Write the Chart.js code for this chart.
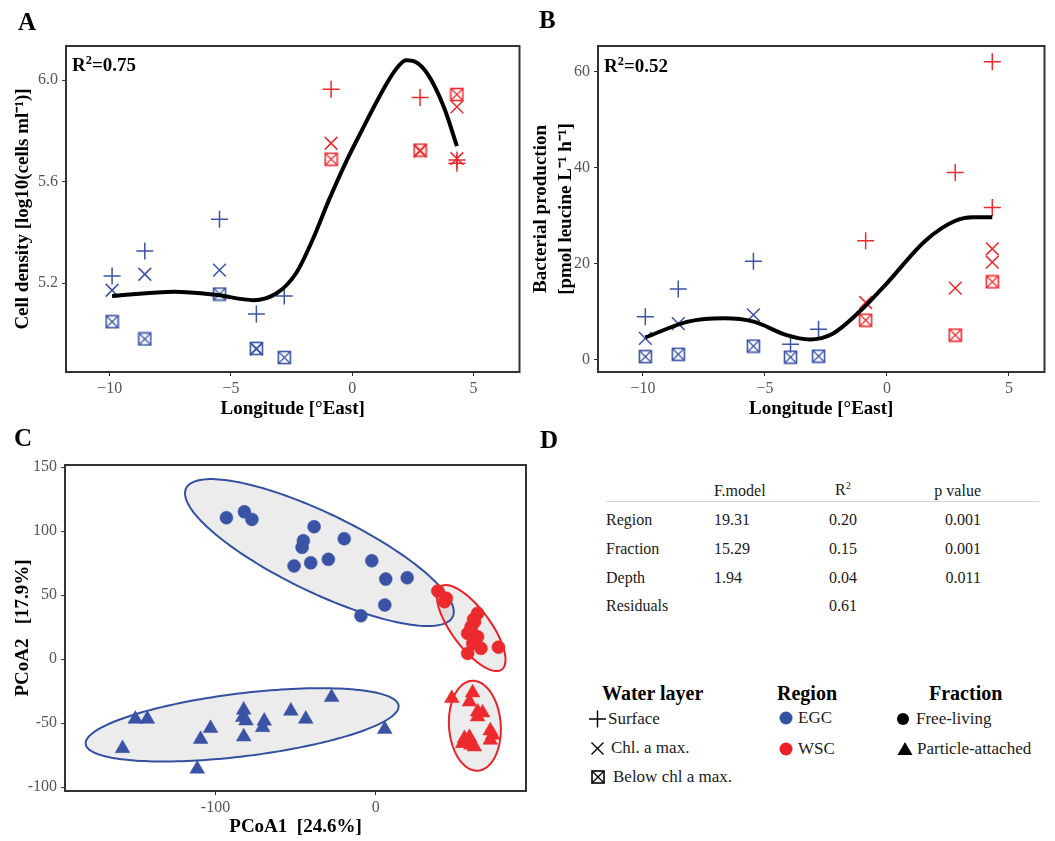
<!DOCTYPE html>
<html>
<head>
<meta charset="utf-8">
<title>Cell density, bacterial production and PCoA</title>
<script src="https://cdn.jsdelivr.net/npm/chart.js@4.4.1/dist/chart.umd.min.js"></script>
<style>
  body { margin: 0; background: #fff; }
  #fig { position: relative; width: 1055px; height: 841px; overflow: hidden;
         font-family: 'Liberation Serif', 'Times New Roman', serif; color: #000; }
  #fig canvas { position: absolute; }
  .t { position: absolute; white-space: nowrap; line-height: 20px; height: 20px; }
  .panel { font-size: 25px; font-weight: bold; }
  .r2 { font-size: 19px; font-weight: bold; }
  .tab { font-size: 16px; color: #1a1a1a; }
  .head { font-size: 20px; font-weight: bold; }
  .item { font-size: 17px; color: #1a1a1a; }
  .sym { position: absolute; }
  sup { font-size: 0.65em; line-height: 0; vertical-align: 0.55em; }
</style>
</head>
<body>
<div id="fig">
  <canvas id="chartA" width="530" height="420" style="left:0;top:0"></canvas>
  <canvas id="chartB" width="527" height="420" style="left:528px;top:0"></canvas>
  <canvas id="chartC" width="535" height="411" style="left:0;top:430px"></canvas>

  <div class="t panel" style="left:18px;top:12px">A</div>
  <div class="t panel" style="left:539px;top:10px">B</div>
  <div class="t panel" style="left:14px;top:428px">C</div>
  <div class="t panel" style="left:540px;top:430px">D</div>

  <div class="t r2" style="left:72px;top:55px">R<sup>2</sup>=0.75</div>
  <div class="t r2" style="left:604px;top:56px">R<sup>2</sup>=0.52</div>

  <!-- PERMANOVA table -->
  <div id="permTable"></div>
  <div style="position:absolute;left:606px;top:501px;width:433px;height:1px;background:#d6d6d6"></div>

  <!-- legend -->
  <div class="t head" style="left:602px;top:683px">Water layer</div>
  <div class="t head" style="left:777px;top:683px">Region</div>
  <div class="t head" style="left:929px;top:683px">Fraction</div>

  <svg class="sym" style="left:589px;top:710px" width="18" height="18">
    <path d="M0 9H17M8.5 0.5V17.5" stroke="#000" stroke-width="1.4" fill="none"/>
  </svg>
  <div class="t item" style="left:608px;top:709px">Surface</div>
  <svg class="sym" style="left:590px;top:741px" width="15" height="15">
    <path d="M1.5 1.5L13.5 13.5M13.5 1.5L1.5 13.5" stroke="#000" stroke-width="1.4" fill="none"/>
  </svg>
  <div class="t item" style="left:611px;top:738px">Chl. a max.</div>
  <svg class="sym" style="left:591px;top:770px" width="14" height="14">
    <rect x="1" y="1" width="12" height="12" stroke="#000" stroke-width="1.6" fill="none"/>
    <path d="M1 1L13 13M13 1L1 13" stroke="#000" stroke-width="1.4" fill="none"/>
  </svg>
  <div class="t item" style="left:613px;top:767px">Below chl a max.</div>

  <svg class="sym" style="left:778px;top:710px" width="16" height="16"><circle cx="8" cy="8" r="6.5" fill="#3451a1"/></svg>
  <div class="t item" style="left:798px;top:708px">EGC</div>
  <svg class="sym" style="left:778px;top:741px" width="16" height="16"><circle cx="8" cy="8" r="6.5" fill="#ec2027"/></svg>
  <div class="t item" style="left:798px;top:739px">WSC</div>

  <svg class="sym" style="left:896px;top:712px" width="14" height="14"><circle cx="7" cy="7" r="6" fill="#000"/></svg>
  <div class="t item" style="left:916px;top:709px">Free-living</div>
  <svg class="sym" style="left:897px;top:741px" width="16" height="15"><path d="M8 1L15.5 14H0.5Z" fill="#000"/></svg>
  <div class="t item" style="left:917px;top:739px">Particle-attached</div>
</div>

<script>
// ---------- panel A / B : stations along the transect ----------
const lonEgc = [-9.9, -8.55, -5.47, -3.95, -2.8];
const lonWsc = [-0.87, 2.8, 4.32, 4.32];

// cell density, log10(cells ml-1)
const egcSurfA  = [5.228, 5.327, 5.452, 5.078, 5.149];
const egcChlA   = [5.172, 5.235, 5.251, 4.94, null];
const egcBelowA = [5.048, 4.98, 5.157, 4.943, 4.907];
const wscSurfA  = [5.964, 5.931, 5.685, 5.672];
const wscChlA   = [5.751, 5.72, 5.894, 5.69];
const wscBelowA = [5.688, 5.724, 5.943, null];

// bacterial production, pmol leucine L-1 h-1
const egcSurfB  = [8.9, 14.7, 20.5, 3.2, 6.3];
const egcChlB   = [4.4, 7.5, 9.3, null, null];
const egcBelowB = [0.6, 1.1, 2.8, 0.5, 0.7];
const wscSurfB  = [24.8, 39.0, 62.1, 31.7];
const wscChlB   = [11.9, 14.9, 23.1, 20.3];
const wscBelowB = [8.2, 5.1, 16.2, null];

// smoothed trend lines
const curveLonA = [-9.9, -7.33, -5.57, -4.08, -3.13, -2.32, -1.64, -0.96, -0.28, 0.39, 1.21, 1.75, 2.22, 2.6, 3.1, 3.78, 4.32];
const curveA    = [5.149, 5.166, 5.153, 5.133, 5.159, 5.238, 5.369, 5.527, 5.672, 5.80, 5.95, 6.035, 6.078, 6.072, 6.025, 5.894, 5.74];
const curveLonB = [-9.9, -8.15, -6.67, -5.46, -4.11, -3.17, -2.22, -1.14, -0.02, 1.58, 2.83, 3.5, 4.32];
const curveB    = [4.6, 7.9, 8.6, 7.9, 5.1, 4.2, 5.4, 9.9, 15.8, 24.8, 29.0, 29.7, 29.7];

const lonTicks = [-10, -5, 0, 5];
const densityTicks = [5.2, 5.6, 6.0];
const productionTicks = [0, 20, 40, 60];

// ---------- panel C : PCoA scores ----------
const egcFreeX = [-93.2, -82, -77.3, -51, -46, -45.2, -38.5, -40.6, -29.6, -19.7, -2.5, 6.2, 19.6, 5.6, -9.3];
const egcFreeY = [110.4, 115, 109.1, 72.7, 87.3, 92.4, 103.4, 75.2, 77.9, 94, 76.8, 62.5, 63.5, 42.2, 33.8];
const wscFreeX = [38.7, 42.9, 44, 63.5, 61.6, 59.4, 57.3, 63.5, 60.5, 65.6, 76.5, 57.3, 59.5, 61];
const wscFreeY = [53.1, 44.8, 47.5, 35.7, 29.1, 25.2, 20, 17.4, 12.2, 8.4, 9.3, 4.4, 22.5, 31];
const egcAttX = [-158, -150, -142.5, -109.3, -103.1, -111.4, -82.4, -83, -81, -82.4, -69.6, -70.6, -53, -43.7, -27.6, 5.6];
const egcAttY = [-69.8, -46.9, -46.9, -62.7, -54.1, -85.9, -39.8, -45.5, -48.2, -60.7, -48.4, -53.4, -40.6, -46.9, -29.9, -54.9];
const wscAttX = [47.4, 60.4, 58.4, 63.5, 66.6, 63.5, 71.4, 72.9, 71.4, 55.3, 58.4, 59.4, 61.5, 54.2];
const wscAttY = [-30.7, -26.3, -33.4, -41.2, -42, -45, -56, -59.4, -63.3, -62, -61.2, -67.2, -68.5, -65.9];

// confidence ellipses: centre and two conjugate semi-axes (data units)
// order: EGC free-living, WSC free-living, EGC particle-attached, WSC particle-attached
const ellipseCentre = [[-35.2, 83.2], [59.5, 24.2], [-83.4, -51.4], [61.8, -52.1]];
const ellipseAxis1  = [[83.15, -50.2], [19.12, -32.35], [97.6, 15.0], [1.93, -35.1]];
const ellipseAxis2  = [[-10.62, -27.8], [-9.67, -9.04], [2.38, -24.4], [16.1, 1.4]];

const pcoaXTicks = [-100, 0];
const pcoaYTicks = [-100, -50, 0, 50, 100, 150];

// ---------- panel D : PERMANOVA ----------
const permHeader = ['', 'F.model', 'R<sup>2</sup>', 'p value'];
const permTerms  = ['Region', 'Fraction', 'Depth', 'Residuals'];
const permF      = ['19.31', '15.29', '1.94', ''];
const permR2     = ['0.20', '0.15', '0.04', '0.61'];
const permP      = ['0.001', '0.001', '0.011', ''];

// ----------------------------------------------------------------
const BLUE = '#3a53a4';
const RED = '#ec2a2d';
const ELL_COL = ['#3451a1', '#ec2027', '#3451a1', '#ec2027'];

Chart.defaults.font.family = "'Liberation Serif', 'Times New Roman', serif";
Chart.defaults.animation = false;
Chart.defaults.events = [];
Chart.defaults.plugins.legend.display = false;
Chart.defaults.plugins.tooltip.enabled = false;

const pts = (xs, ys) => xs.map((x, i) => ({ x: x, y: ys[i] }));
const minus = v => String(v).replace('-', '\u2212');

// square with a cross inside, for "below chl a max."
function boxCross(colour) {
    const c = document.createElement('canvas');
    c.width = 15; c.height = 15;
    const g = c.getContext('2d');
    g.strokeStyle = colour;
    g.lineWidth = 1.6;
    g.strokeRect(1.5, 1.5, 12, 12);
    g.lineWidth = 1.3;
    g.beginPath();
    g.moveTo(2, 2); g.lineTo(13, 13);
    g.moveTo(13, 2); g.lineTo(2, 13);
    g.stroke();
    return c;
}

const framePlugin = {
    id: 'frame',
    beforeDatasetsDraw(chart) {
        const { ctx, chartArea: a } = chart;
        ctx.save();
        ctx.strokeStyle = '#333';
        ctx.lineWidth = 2;
        ctx.strokeRect(a.left, a.top, a.right - a.left, a.bottom - a.top);
        ctx.restore();
    }
};

const ellipsePlugin = {
    id: 'ellipses',
    beforeDatasetsDraw(chart) {
        const { ctx, chartArea: a, scales: { x, y } } = chart;
        const paths = ellipseCentre.map((c, k) => {
            const p = new Path2D();
            for (let i = 0; i <= 180; i++) {
                const t = i / 180 * Math.PI * 2;
                const dx = c[0] + ellipseAxis1[k][0] * Math.cos(t) + ellipseAxis2[k][0] * Math.sin(t);
                const dy = c[1] + ellipseAxis1[k][1] * Math.cos(t) + ellipseAxis2[k][1] * Math.sin(t);
                const px = x.getPixelForValue(dx), py = y.getPixelForValue(dy);
                if (i === 0) p.moveTo(px, py); else p.lineTo(px, py);
            }
            p.closePath();
            return p;
        });
        ctx.save();
        ctx.beginPath();
        ctx.rect(a.left, a.top, a.right - a.left, a.bottom - a.top);
        ctx.clip();
        ctx.fillStyle = 'rgba(160,160,160,0.2)';
        paths.forEach(p => ctx.fill(p));
        ctx.lineWidth = 2;
        paths.forEach((p, k) => { ctx.strokeStyle = ELL_COL[k]; ctx.stroke(p); });
        ctx.restore();
    }
};

function xAxis(min, max, tickVals, height, title, fmt, titlePad) {
    return {
        type: 'linear', min: min, max: max,
        afterBuildTicks: s => { s.ticks = tickVals.map(v => ({ value: v })); },
        afterFit: s => { s.height = height; },
        grid: { drawOnChartArea: false, drawTicks: true, tickLength: 4, color: '#333', lineWidth: 1 },
        border: { display: false },
        ticks: { color: '#555', font: { size: 16 }, padding: 3, maxRotation: 0, callback: fmt },
        title: { display: true, text: title, color: '#000',
                 font: { size: 19, weight: 'bold', lineHeight: 1.2 }, padding: { top: 0, bottom: titlePad } }
    };
}

function yAxis(min, max, tickVals, width, title, fmt, lineHeight, titlePad) {
    return {
        type: 'linear', min: min, max: max,
        afterBuildTicks: s => { s.ticks = tickVals.map(v => ({ value: v })); },
        afterFit: s => { s.width = width; },
        grid: { drawOnChartArea: false, drawTicks: true, tickLength: 4, color: '#333', lineWidth: 1 },
        border: { display: false },
        ticks: { color: '#555', font: { size: 16 }, padding: 4, callback: fmt },
        title: { display: true, text: title, color: '#000',
                 font: { size: 19, weight: 'bold', lineHeight: lineHeight }, padding: { top: titlePad, bottom: 0 } }
    };
}

function transectSets(curveX, curveY, series) {
    const sets = [{
        data: pts(curveX, curveY), showLine: true, borderColor: '#000', borderWidth: 4,
        pointRadius: 0, cubicInterpolationMode: 'monotone', order: 0
    }];
    series.forEach(s => {
        sets.push({
            data: pts(s.lon, s.values),
            pointStyle: s.style === 'box' ? boxCross(s.colour) : s.style,
            pointRadius: s.style === 'cross' ? 8.5 : 9,
            borderColor: s.colour, backgroundColor: s.colour,
            pointBorderWidth: 1.5, order: 1
        });
    });
    return sets;
}

// A: cell density
new Chart(document.getElementById('chartA'), {
    type: 'scatter',
    data: {
        datasets: transectSets(curveLonA, curveA, [
            { lon: lonEgc, values: egcSurfA, style: 'cross', colour: BLUE },
            { lon: lonEgc, values: egcChlA, style: 'crossRot', colour: BLUE },
            { lon: lonEgc, values: egcBelowA, style: 'box', colour: BLUE },
            { lon: lonWsc, values: wscSurfA, style: 'cross', colour: RED },
            { lon: lonWsc, values: wscChlA, style: 'crossRot', colour: RED },
            { lon: lonWsc, values: wscBelowA, style: 'box', colour: RED }
        ])
    },
    options: {
        responsive: false,
        devicePixelRatio: 1,
        layout: { padding: { top: 46, right: 3, left: 0, bottom: 0 } },
        scales: {
            x: xAxis(-11.8, 6.9, lonTicks, 48, 'Longitude [°East]', v => minus(v), 0),
            y: yAxis(4.85, 6.134, densityTicks, 66, 'Cell density [log10(cells ml\u207B\u00B9)]',
                     v => v.toFixed(1), 1.2, 12)
        }
    },
    plugins: [framePlugin]
});

// B: bacterial production
new Chart(document.getElementById('chartB'), {
    type: 'scatter',
    data: {
        datasets: transectSets(curveLonB, curveB, [
            { lon: lonEgc, values: egcSurfB, style: 'cross', colour: BLUE },
            { lon: lonEgc, values: egcChlB, style: 'crossRot', colour: BLUE },
            { lon: lonEgc, values: egcBelowB, style: 'box', colour: BLUE },
            { lon: lonWsc, values: wscSurfB, style: 'cross', colour: RED },
            { lon: lonWsc, values: wscChlB, style: 'crossRot', colour: RED },
            { lon: lonWsc, values: wscBelowB, style: 'box', colour: RED }
        ])
    },
    options: {
        responsive: false,
        devicePixelRatio: 1,
        layout: { padding: { top: 46, right: 5, left: 0, bottom: 0 } },
        scales: {
            x: xAxis(-11.84, 6.46, lonTicks, 48, 'Longitude [°East]', v => minus(v), 0),
            y: yAxis(-2.6, 65.4, productionTicks, 70,
                     ['Bacterial production', '[pmol leucine L\u207B\u00B9 h\u207B\u00B9]'],
                     v => String(v), 1.35, 0)
        }
    },
    plugins: [framePlugin]
});

// C: PCoA ordination
new Chart(document.getElementById('chartC'), {
    type: 'scatter',
    data: {
        datasets: [
            { data: pts(egcFreeX, egcFreeY), pointStyle: 'circle', pointRadius: 6.5, backgroundColor: BLUE, borderColor: BLUE, pointBorderWidth: 0.5 },
            { data: pts(wscFreeX, wscFreeY), pointStyle: 'circle', pointRadius: 6.5, backgroundColor: RED, borderColor: RED, pointBorderWidth: 0.5 },
            { data: pts(egcAttX, egcAttY), pointStyle: 'triangle', pointRadius: 8.5, backgroundColor: BLUE, borderColor: BLUE, pointBorderWidth: 0.5 },
            { data: pts(wscAttX, wscAttY), pointStyle: 'triangle', pointRadius: 8.5, backgroundColor: RED, borderColor: RED, pointBorderWidth: 0.5 }
        ]
    },
    options: {
        responsive: false,
        devicePixelRatio: 1,
        layout: { padding: { top: 35, right: 6, left: 0, bottom: 0 } },
        scales: {
            x: xAxis(-193.9, 93.7, pcoaXTicks, 50, 'PCoA1  [24.6%]', v => String(v), 3),
            y: yAxis(-103.1, 151.6, pcoaYTicks, 65, 'PCoA2   [17.9%]', v => String(v), 1.2, 12)
        }
    },
    plugins: [framePlugin, ellipsePlugin]
});

// D: PERMANOVA table, laid out as text
(function buildTable() {
    const box = document.getElementById('permTable');
    const colLeft = [606, 714, 843, 981];           // col 2 centred, col 3 right-aligned
    const shift = ['', '', 'translateX(-50%)', 'translateX(-100%)'];
    const add = (html, col, top) => {
        const d = document.createElement('div');
        d.className = 't tab';
        d.style.left = colLeft[col] + 'px';
        d.style.top = top + 'px';
        d.style.transform = shift[col];
        d.innerHTML = html;
        box.appendChild(d);
    };
    permHeader.forEach((h, c) => { if (h) add(h, c, c === 2 ? 480 : 481); });
    const rowTop = [510, 539, 568, 596];
    permTerms.forEach((term, r) => {
        add(term, 0, rowTop[r]);
        add(permF[r], 1, rowTop[r]);
        add(permR2[r], 2, rowTop[r]);
        add(permP[r], 3, rowTop[r]);
    });
})();
</script>
</body>
</html>
